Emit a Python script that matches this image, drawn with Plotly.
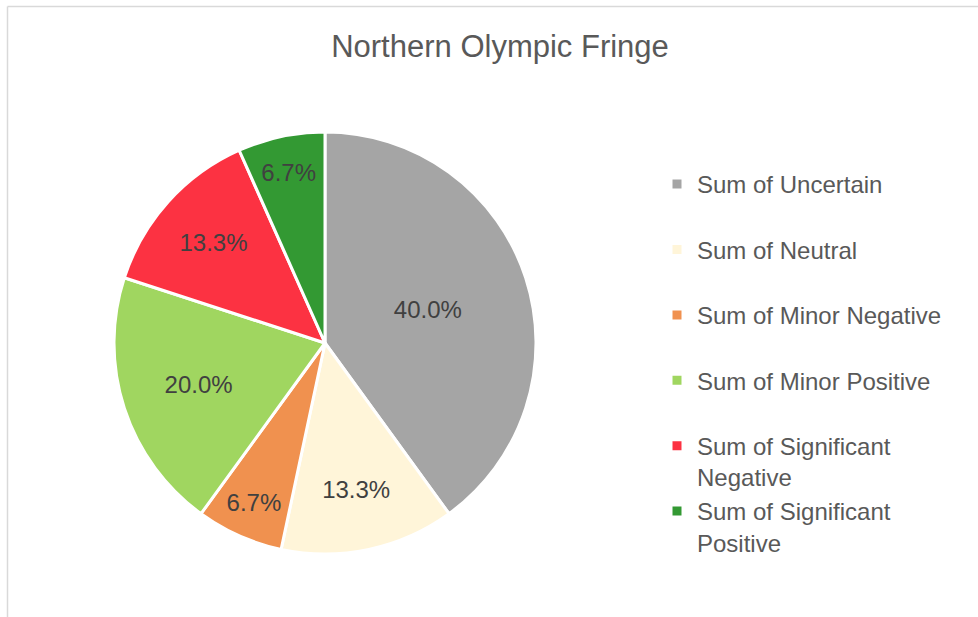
import plotly.graph_objects as go

categories = ["Uncertain", "Neutral", "Minor Negative", "Minor Positive",
              "Significant Negative", "Significant Positive"]
counts = [6, 2, 1, 3, 2, 1]
colors = ["#A5A5A5", "#FFF5D9", "#F0914F", "#A0D660", "#FC3242", "#339933"]

def legend_label(cat):
    name = "Sum of " + cat
    if len(name) > 22:
        first, second = name.rsplit(" ", 1)
        return first + "<br>" + second
    return name + "<br> "

labels = [legend_label(c) for c in categories]

W, H = 978, 617
cx, cy, r = 325, 343, 211

fig = go.Figure(go.Pie(
    labels=labels,
    values=counts,
    sort=False,
    direction="clockwise",
    rotation=0,
    marker=dict(colors=colors, line=dict(color="white", width=3)),
    textinfo="percent",
    texttemplate="%{percent:.1%}",
    textposition="inside",
    insidetextorientation="horizontal",
    textfont=dict(family="Liberation Sans, Arial", size=24, color="#404040"),
    hoverinfo="label+value+percent",
    domain=dict(x=[(cx - r) / W, (cx + r) / W], y=[1 - (cy + r) / H, 1 - (cy - r) / H]),
))

fig.update_layout(
    width=W, height=H,
    margin=dict(l=0, r=0, t=0, b=0),
    paper_bgcolor="white",
    title=dict(text="Northern Olympic Fringe", x=500 / W, xanchor="center",
               y=1 - 46 / H, yanchor="middle",
               font=dict(family="Liberation Sans, Arial", size=31, color="#595959")),
    legend=dict(x=657 / W, xanchor="left", y=1 - 162 / H, yanchor="top",
                valign="top", traceorder="normal",
                font=dict(family="Liberation Sans, Arial", size=24, color="#595959"),
                bgcolor="rgba(0,0,0,0)"),
    shapes=[
        dict(type="line", xref="paper", yref="paper", x0=7.5 / W, x1=1.2, y0=1 - 6.5 / H, y1=1 - 6.5 / H,
             line=dict(color="#D9D9D9", width=1.5)),
        dict(type="line", xref="paper", yref="paper", x0=7.5 / W, x1=7.5 / W, y0=1 - 6.5 / H, y1=-0.2,
             line=dict(color="#D9D9D9", width=1.5)),
    ],
)

fig.write_html("out.html",
               config={"displayModeBar": False},
               post_script="document.body.style.margin='0';document.body.style.overflow='hidden';")
